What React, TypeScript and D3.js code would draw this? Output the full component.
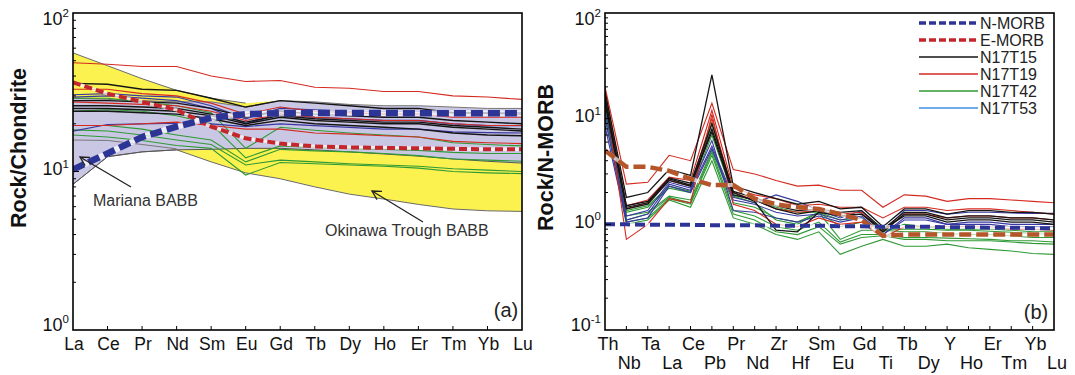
import React from 'react';
import * as d3 from 'd3';

// ---------- categories ----------
const reeElements = ['La','Ce','Pr','Nd','Sm','Eu','Gd','Tb','Dy','Ho','Er','Tm','Yb','Lu'];
const spiderElements = ['Th','Nb','Ta','La','Ce','Pb','Pr','Nd','Zr','Hf','Sm','Eu','Gd','Ti','Tb','Dy','Y','Ho','Er','Tm','Yb','Lu'];

// ---------- (a) chondrite-normalised fields ----------
const okinawaUpper = [56, 46.5, 38.5, 32.5, 29, 27, 28, 27, 26.5, 26, 25.5, 25, 25, 25];
const okinawaLower = [8.3, 12.4, 13.3, 13.7, 11.5, 9.8, 9.0, 8.0, 7.2, 6.7, 6.2, 5.8, 5.65, 5.6];
const marianaUpper = [29, 28.5, 28, 27.5, 27.5, 25.5, 28, 27.5, 26.5, 26, 26, 25.5, 25, 25];
const marianaLower = [8.3, 12.4, 13.3, 13.7, 13.8, 14, 14, 13.7, 13.3, 12.9, 12.5, 12, 11.6, 11.3];
const marianaInner = [15.8, 15.7, 14.8, 13.9];

// ---------- (a) references ----------
const reeNMORB = [10.3, 13, 16.5, 19.2, 21.8, 23, 23.3, 23.4, 23.4, 23.4, 23.3, 23.3, 23.3, 23.3];
const reeEMORB = [36.5, 31, 27.5, 24.5, 19.2, 16.2, 15, 14.4, 14.2, 14.1, 14, 13.9, 13.8, 13.8];

// ---------- (a) samples ----------
const reeN17T15 = [
  [36, 35.5, 33, 32.5, 29, 25.5, 28, 27, 26, 25, 25, 23.5, 23.3, 23],
  [28, 28, 27.5, 27, 25, 22, 24, 23, 22.5, 22, 22, 21, 20.5, 20],
  [26, 26, 25.5, 25, 23, 20.5, 22.5, 21.5, 21, 20.5, 20.5, 19.5, 19, 18.5],
  [25, 25, 24.5, 24, 22.5, 20, 22, 21, 20.5, 20, 20, 19, 18.5, 18],
  [24, 24, 23.5, 23, 21.5, 19.5, 21, 20, 19.5, 19, 18.5, 17.5, 17, 16.8],
];
const reeN17T19 = [
  [48.5, 47.5, 46, 46, 40, 37, 37.5, 34, 33.5, 32, 32, 30, 29.5, 28.5],
  [33, 33, 31, 30, 27, 23, 25.5, 24, 23.5, 23, 23, 22, 22, 22],
  [27.5, 27, 26.5, 26, 24, 21, 23, 22, 21.5, 21, 21, 20, 19.5, 19.5],
  [19.5, 19.5, 20, 20.5, 19.5, 18.5, 18.5, 17.5, 17.2, 16.8, 16.5, 15.5, 15.2, 15],
];
const reeN17T42 = [
  [29, 29, 27.5, 26, 23.5, 14, 19, 18.2, 17.5, 17, 16.5, 15.2, 14.8, 14.5],
  [24, 24.5, 24, 22.5, 20, 12.2, 14.5, 14.2, 14, 13.8, 13.6, 13.2, 13, 13],
  [19.5, 19.5, 18.5, 17, 15.8, 11.5, 13.8, 13.5, 13.3, 13, 12.6, 12, 11.8, 11.6],
  [18.3, 18, 17, 15.8, 14.8, 11, 11.8, 11.5, 11.2, 11, 10.8, 10.4, 10.2, 10],
  [17, 16.5, 15.7, 14.6, 14, 9.5, 11.4, 11.2, 11, 10.8, 10.5, 10.0, 9.8, 9.7],
];
const reeN17T53 = [
  [30.5, 31, 30, 29.5, 26, 21.5, 25, 24.5, 24, 24, 24, 23.5, 23.5, 23.5],
  [29.5, 30, 29, 28, 25, 20, 23, 22, 21.5, 21, 21, 20, 19.5, 19.5],
  [18, 19.8, 20, 20.2, 20, 19.2, 20, 19.5, 19, 18.5, 18.5, 17.8, 17.6, 17.5],
];

// ---------- (b) references ----------
const spiderNMORB = [1.0, 1.0, 0.99, 0.99, 0.99, 0.98, 0.98, 0.98, 0.97, 0.97, 0.97, 0.96, 0.96, 0.95, 0.95, 0.95, 0.94, 0.94, 0.93, 0.93, 0.92, 0.92];
const spiderEMORB = [5.0, 3.5, 3.5, 3.2, 2.7, 2.35, 2.35, 1.75, 1.55, 1.45, 1.4, 1.25, 1.1, 0.78, 0.8, 0.8, 0.8, 0.8, 0.8, 0.8, 0.8, 0.8];

// ---------- (b) samples ----------
const spiderN17T15 = [
  [18, 1.8, 2.0, 3.3, 2.9, 26, 2.3, 2.0, 1.75, 1.55, 1.65, 1.4, 1.45, 0.95, 1.4, 1.4, 1.25, 1.35, 1.35, 1.3, 1.3, 1.25],
  [15, 1.45, 1.6, 2.7, 2.35, 8, 2.0, 1.65, 0.88, 0.85, 1.3, 1.2, 1.25, 0.85, 1.25, 1.25, 1.1, 1.15, 1.15, 1.1, 1.1, 1.05],
  [14, 1.4, 1.55, 2.6, 2.3, 7.5, 1.9, 1.7, 1.4, 1.25, 1.35, 1.2, 1.25, 0.9, 1.2, 1.2, 1.05, 1.1, 1.1, 1.05, 1.05, 1.0],
  [16, 1.5, 1.65, 2.75, 2.45, 9, 2.05, 1.8, 1.5, 1.35, 1.4, 1.3, 1.35, 0.9, 1.3, 1.3, 1.15, 1.2, 1.2, 1.15, 1.15, 1.1],
];
const spiderN17T19 = [
  [20, 2.4, 2.5, 4.5, 4.0, 14, 3.3, 3.0, 2.6, 2.3, 2.35, 2.1, 2.1, 1.45, 1.9, 1.85, 1.65, 1.75, 1.75, 1.7, 1.65, 1.6],
  [17, 0.72, 1.0, 1.75, 1.6, 11, 1.55, 1.35, 1.0, 0.95, 1.15, 1.0, 1.05, 0.75, 0.95, 0.95, 0.95, 0.95, 0.95, 0.9, 0.9, 0.88],
  [19, 1.5, 1.7, 2.8, 2.6, 12, 2.2, 1.9, 1.75, 1.5, 1.55, 1.45, 1.45, 1.15, 1.45, 1.45, 1.35, 1.4, 1.4, 1.35, 1.3, 1.25],
  [16, 1.4, 1.6, 2.6, 2.3, 10, 2.0, 1.7, 1.4, 1.3, 1.35, 1.25, 1.3, 0.85, 1.25, 1.25, 1.15, 1.2, 1.2, 1.15, 1.15, 1.1],
];
const spiderN17T42 = [
  [15, 1.3, 1.45, 2.2, 2.0, 9, 1.9, 1.7, 1.45, 1.3, 1.3, 1.1, 1.15, 0.85, 1.0, 0.95, 0.9, 0.9, 0.9, 0.88, 0.85, 0.85],
  [13, 1.2, 1.3, 1.85, 1.7, 5, 1.6, 1.45, 1.15, 1.05, 1.3, 0.72, 0.88, 0.88, 0.85, 0.85, 0.82, 0.8, 0.8, 0.78, 0.75, 0.75],
  [12, 1.05, 1.15, 1.75, 1.55, 4.5, 1.25, 1.1, 0.85, 0.8, 0.95, 0.65, 0.75, 0.78, 0.72, 0.72, 0.7, 0.7, 0.7, 0.68, 0.66, 0.65],
  [11, 1.0, 1.1, 1.7, 1.45, 4.0, 1.15, 1.0, 0.8, 0.72, 0.85, 0.52, 0.62, 0.72, 0.62, 0.62, 0.65, 0.6, 0.58, 0.56, 0.53, 0.52],
  [14, 1.1, 1.25, 1.8, 1.6, 4.8, 1.35, 1.2, 0.95, 0.88, 1.05, 0.68, 0.8, 0.8, 0.75, 0.75, 0.74, 0.73, 0.72, 0.7, 0.7, 0.68],
  [16, 1.35, 1.5, 2.3, 2.05, 7, 1.85, 1.6, 1.1, 1.0, 1.3, 0.95, 1.05, 0.9, 0.9, 0.9, 0.88, 0.88, 0.86, 0.84, 0.82, 0.8],
];
const spiderN17T53 = [
  [10, 1.1, 1.25, 2.4, 2.1, 5.5, 1.8, 1.6, 1.9, 1.65, 1.35, 1.15, 1.35, 0.85, 1.35, 1.35, 1.25, 1.3, 1.3, 1.28, 1.27, 1.27],
  [8.5, 1.05, 1.15, 2.3, 2.0, 5.2, 1.7, 1.55, 1.3, 1.2, 1.25, 1.1, 1.2, 0.8, 1.15, 1.15, 1.0, 1.05, 1.05, 1.0, 1.0, 1.0],
  [12, 1.2, 1.35, 2.5, 2.2, 6.2, 1.35, 1.3, 1.15, 1.05, 1.2, 1.05, 1.15, 0.8, 1.1, 1.1, 1.0, 1.0, 1.0, 0.95, 0.95, 0.95],
];

const legendLabels = ['N-MORB', 'E-MORB', 'N17T15', 'N17T19', 'N17T42', 'N17T53'];

// ---------- style ----------
const FONT = 'Liberation Sans, Arial, Helvetica, sans-serif';
const C_BLACK = '#151515';
const C_RED = '#d42a20';
const C_GREEN = '#2f9a35';
const C_BLUE = '#3838a0';
const C_BLUE_LEG = '#3f8fe0';
const C_NMORB = '#2c3496';
const C_EMORB_A = '#c4262b';
const C_EMORB_B = '#b5552a';

const TOP = 13, BOTTOM = 330;

function YAxis({ y, x0, domain }: any) {
  const ticks: number[] = y.ticks();
  const majors = ticks.filter((t: number) => Math.abs(Math.log10(t) - Math.round(Math.log10(t))) < 1e-9);
  return (
    <g>
      {ticks.map((t: number, i: number) => {
        const major = majors.includes(t);
        if (t <= domain[0] || t >= domain[1]) return null;
        return <line key={i} x1={x0} x2={x0 + (major ? 6 : 3)} y1={y(t)} y2={y(t)} stroke="#000" strokeWidth={1} />;
      })}
      {majors.map((t: number, i: number) => {
        const e = Math.round(Math.log10(t));
        let cy = y(t) - 3;
        cy = Math.max(TOP + 5, Math.min(BOTTOM - 6, cy));
        return (
          <text key={'l' + i} x={x0 - 4} y={cy + 6.5} textAnchor="end" fontFamily={FONT} fontSize={18} fill="#111">
            <tspan>10</tspan>
            <tspan dy={-7.5} fontSize={11.5}>{String(e)}</tspan>
          </text>
        );
      })}
    </g>
  );
}

function Arrow({ x1, y1, x2, y2 }: any) {
  const a = Math.atan2(y1 - y2, x1 - x2);
  const L = 10, s = 0.5;
  return (
    <g stroke="#222" strokeWidth={1.3} fill="none">
      <line x1={x1} y1={y1} x2={x2} y2={y2} />
      <polyline points={`${x2 + L * Math.cos(a + s)},${y2 + L * Math.sin(a + s)} ${x2},${y2} ${x2 + L * Math.cos(a - s)},${y2 + L * Math.sin(a - s)}`} />
    </g>
  );
}

export default function App() {
  // ---------- panel (a) ----------
  const ax = d3.scalePoint<string>().domain(reeElements).range([73, 522]);
  const ay = d3.scaleLog().domain([1, 100]).range([BOTTOM, TOP]);
  const aLine = (vals: number[]) =>
    d3.line<number>().x((_, i) => ax(reeElements[i]) as number).y((d) => ay(d))(vals) || '';
  const aArea = (up: number[], lo: number[]) =>
    d3.area<number>().x((_, i) => ax(reeElements[i]) as number).y0((_, i) => ay(lo[i])).y1((d) => ay(d))(up) || '';

  // ---------- panel (b) ----------
  const bx = d3.scalePoint<string>().domain(spiderElements).range([605, 1054]);
  const by = d3.scaleLog().domain([0.1, 100]).range([BOTTOM, TOP]);
  const bLine = (vals: number[]) =>
    d3.line<number>().x((_, i) => bx(spiderElements[i]) as number).y((d) => by(d))(vals) || '';

  const legendColors = [C_NMORB, C_EMORB_A, C_BLACK, C_RED, C_GREEN, C_BLUE_LEG];
  const legendY = d3.scaleLinear().domain([0, 5]).range([23, 108]);

  return (
    <svg width={1075} height={375} style={{ position: 'absolute', left: 0, top: 0, background: '#fff' }}>
      <defs>
        <clipPath id="clipA"><rect x={73} y={TOP} width={522 - 73} height={BOTTOM - TOP} /></clipPath>
        <clipPath id="clipB"><rect x={605} y={TOP} width={1054 - 605} height={BOTTOM - TOP} /></clipPath>
      </defs>

      {/* ================= panel (a) ================= */}
      <g clipPath="url(#clipA)">
        <path d={aArea(okinawaUpper, okinawaLower)} fill="#fbf250" />
        <path d={aArea(marianaUpper, marianaLower)} fill="#cac7e4" />
        <path d={aLine(okinawaUpper.slice(0, 6))} fill="none" stroke="#6a6a6a" strokeWidth={1} />
        <path d={aLine(okinawaLower)} fill="none" stroke="#6a6a6a" strokeWidth={1} />
        <path d={aLine(marianaUpper)} fill="none" stroke="#777" strokeWidth={1} />
        <path d={aLine(marianaLower)} fill="none" stroke="#555" strokeWidth={1} />
        <path d={aLine(marianaInner)} fill="none" stroke="#777" strokeWidth={1} />
        {reeN17T42.map((v, i) => <path key={'ag' + i} d={aLine(v)} fill="none" stroke={C_GREEN} strokeWidth={1.1} />)}
        {reeN17T53.map((v, i) => <path key={'ab' + i} d={aLine(v)} fill="none" stroke={C_BLUE} strokeWidth={1.2} />)}
        {reeN17T19.map((v, i) => <path key={'ar' + i} d={aLine(v)} fill="none" stroke={C_RED} strokeWidth={1.1} />)}
        {reeN17T15.map((v, i) => <path key={'ak' + i} d={aLine(v)} fill="none" stroke={C_BLACK} strokeWidth={1.4} />)}
        <path d={aLine(reeEMORB)} fill="none" stroke="#fff" strokeOpacity={0.7} strokeWidth={3.5} />
        <path d={aLine(reeEMORB)} fill="none" stroke={C_EMORB_A} strokeWidth={4} strokeDasharray="8 4" />
        <path d={aLine(reeNMORB)} fill="none" stroke="#fff" strokeOpacity={0.7} strokeWidth={6} />
        <path d={aLine(reeNMORB)} fill="none" stroke={C_NMORB} strokeWidth={6.5} strokeDasharray="12 5" />
      </g>
      <rect x={73} y={TOP} width={522 - 73} height={BOTTOM - TOP} fill="none" stroke="#000" strokeWidth={1.6} />
      <YAxis y={ay} x0={73} domain={[1, 100]} />
      {reeElements.map((e, i) => (
        <g key={'ax' + i}>
          {i > 0 && i < reeElements.length - 1 && (
            <line x1={ax(e)} x2={ax(e)} y1={BOTTOM} y2={BOTTOM - 4} stroke="#000" strokeWidth={1} />
          )}
          <text x={(ax(e) as number) + 1} y={349.5} textAnchor="middle" fontFamily={FONT} fontSize={17.5} fill="#111">{e}</text>
        </g>
      ))}
      <text transform="translate(25.5,148) rotate(-90)" textAnchor="middle" fontFamily={FONT} fontWeight="bold" fontSize={21.5} fill="#111">Rock/Chondrite</text>
      <text x={506} y={317} textAnchor="middle" fontFamily={FONT} fontSize={20} fill="#222">(a)</text>
      <text x={93} y={205.5} fontFamily={FONT} fontSize={16} fill="#333">Mariana BABB</text>
      <Arrow x1={131} y1={187} x2={80} y2={157} />
      <text x={325} y={235.5} fontFamily={FONT} fontSize={16} fill="#333">Okinawa Trough BABB</text>
      <Arrow x1={423} y1={222} x2={372} y2={191} />

      {/* ================= panel (b) ================= */}
      <g clipPath="url(#clipB)">
        {spiderN17T42.map((v, i) => <path key={'bg' + i} d={bLine(v)} fill="none" stroke={C_GREEN} strokeWidth={1.1} />)}
        {spiderN17T53.map((v, i) => <path key={'bb' + i} d={bLine(v)} fill="none" stroke={C_BLUE} strokeWidth={1.1} />)}
        {spiderN17T19.map((v, i) => <path key={'br' + i} d={bLine(v)} fill="none" stroke={C_RED} strokeWidth={1.1} />)}
        {spiderN17T15.map((v, i) => <path key={'bk' + i} d={bLine(v)} fill="none" stroke={C_BLACK} strokeWidth={1.3} />)}
        <path d={bLine(spiderEMORB)} fill="none" stroke="#fff" strokeOpacity={0.7} strokeWidth={4} />
        <path d={bLine(spiderEMORB)} fill="none" stroke={C_EMORB_B} strokeWidth={4.5} strokeDasharray="12 5" />
        <path d={bLine(spiderNMORB)} fill="none" stroke="#fff" strokeOpacity={0.7} strokeWidth={3.5} />
        <path d={bLine(spiderNMORB)} fill="none" stroke={C_NMORB} strokeWidth={4} strokeDasharray="10 5" />
      </g>
      <rect x={605} y={TOP} width={1054 - 605} height={BOTTOM - TOP} fill="none" stroke="#000" strokeWidth={1.6} />
      <YAxis y={by} x0={605} domain={[0.1, 100]} />
      {spiderElements.map((e, i) => (
        <g key={'bx' + i}>
          {i > 0 && i < spiderElements.length - 1 && (
            <line x1={bx(e)} x2={bx(e)} y1={BOTTOM} y2={BOTTOM - 4} stroke="#000" strokeWidth={1} />
          )}
          <text x={(bx(e) as number) + 3} y={i % 2 === 0 ? 349.5 : 368.5} textAnchor="middle" fontFamily={FONT} fontSize={18} fill="#111">{e}</text>
        </g>
      ))}
      <text transform="translate(553,157.5) rotate(-90)" textAnchor="middle" fontFamily={FONT} fontWeight="bold" fontSize={21.5} fill="#111">Rock/N-MORB</text>
      <text x={1036} y={319} textAnchor="middle" fontFamily={FONT} fontSize={20} fill="#222">(b)</text>

      {/* legend */}
      {legendLabels.map((l, i) => (
        <g key={'lg' + i}>
          <line x1={919} x2={978} y1={legendY(i)} y2={legendY(i)} stroke={legendColors[i]}
            strokeWidth={i < 2 ? 3.5 : 1.6} strokeDasharray={i < 2 ? '7 3' : undefined} />
          <text x={980} y={legendY(i) + 5.5} fontFamily={FONT} fontSize={16} fill="#222">{l}</text>
        </g>
      ))}
    </svg>
  );
}
